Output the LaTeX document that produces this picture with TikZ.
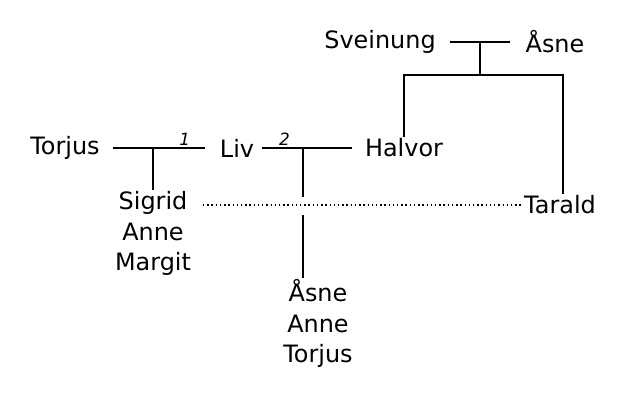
\documentclass[tikz,border=0pt]{standalone}
\usepackage{fontspec}
\setmainfont{DejaVu Sans}
\usetikzlibrary{positioning}

\begin{document}
\begin{tikzpicture}[
  x=0.025cm, y=-0.025cm,
  every node/.style={font=\fontsize{17}{21.5}\selectfont, align=center, inner sep=1pt},
  line/.style={line width=1.2pt},
  num/.style={font=\fontsize{12}{14}\selectfont\itshape}
]
\useasboundingbox (0,0) rectangle (630,400);

% Generation 1
\node (sveinung) at (380,42) {Sveinung};
\node (asne1)    at (555,42) {Åsne};
\coordinate (sa) at (480,42);
\coordinate (sadown) at (480,75);
\coordinate (saleft) at (404,75);
\coordinate (saright) at (563,75);

% Generation 2
\node (torjus) at (65,148)  {Torjus};
\node (liv)    at (237,148) {Liv};
\node (halvor) at (404,148) {Halvor};
\coordinate (tl) at (153,148);
\coordinate (lh) at (303,148);

% Generation 3
\node (sigrid) [anchor=north] at (153,190) {Sigrid\\Anne\\Margit};
\node (tarald) at (560,205) {Tarald};
\node (asne2)  [anchor=north] at (318,278) {Åsne\\Anne\\Torjus};
\coordinate (lhmid) at (303,197);
\coordinate (lhlow) at (303,215);

% Edges
\draw[line] (450,42) -- (510,42);
\draw[line] (sa) -- (sadown);
\draw[line] (halvor.north -| saleft) -- (saleft) -- (saright) -- (tarald.north -| saright);

\draw[line] (113,148) -- (205,148) node[num, pos=0.78, above] {1};
\draw[line] (tl) -- (sigrid.north -| tl);
\draw[line] (262,148) -- (352,148) node[num, pos=0.25, above] {2};
\draw[line] (lh) -- (lhmid);
\draw[line] (lhlow) -- (asne2.north -| lhlow);

\draw[line width=1pt, dotted] (sigrid.north east |- tarald) ++(0,0) (203,205) -- (tarald.west);

\end{tikzpicture}
\end{document}
